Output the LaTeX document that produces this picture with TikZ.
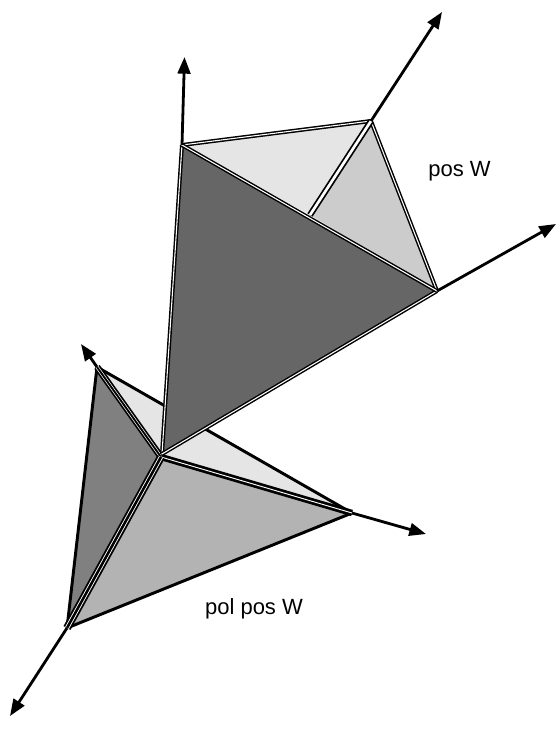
\documentclass[tikz,border=0pt]{standalone}
\usepackage{fontspec}
\setmainfont{Liberation Sans}
\usetikzlibrary{arrows.meta}
\definecolor{faceA}{HTML}{666666}
\definecolor{faceB}{HTML}{E5E5E5}
\definecolor{faceC}{HTML}{CCCCCC}
\definecolor{faceD}{HTML}{808080}
\definecolor{faceE}{HTML}{B3B3B3}
\tikzset{
  axisline/.style={line width=2.1pt,-{Triangle[length=12.5pt,width=9.5pt]}},
  edgeline/.style={line width=2.2pt,line cap=round,line join=round},
  dblthin/.style={draw=black,line width=3pt,postaction={draw=white,line width=.8pt}},
  dblmid/.style={draw=black,line width=4.8pt,postaction={draw=white,line width=.7pt}},
  triple/.style={draw=black,line width=6pt,postaction={draw=white,line width=3.2pt},postaction={draw=black,line width=1.9pt}},
  tripleb/.style={draw=black,line width=5pt,postaction={draw=white,line width=2.4pt},postaction={draw=black,line width=1.4pt}},
  wlabel/.style={font=\fontsize{16.5}{20}\selectfont,inner sep=0pt,text=black}
}
\begin{document}
\begin{tikzpicture}[x=.75pt,y=-.75pt]
\useasboundingbox (0,0) rectangle (556,729);
% upper cone
\coordinate (O) at (162,454);
\coordinate (A) at (182,145);
\coordinate (B) at (371,121);
\coordinate (C) at (437,291);
\coordinate (M) at (310,215);
\coordinate (aA) at (184.5,57);
\coordinate (aB) at (442,12);
\coordinate (aC) at (556,224);
% lower cone
\coordinate (L) at (161,457);
\coordinate (P) at (97,367);
\coordinate (Q) at (352,513);
\coordinate (R) at (67,628);
\coordinate (aP) at (81,344);
\coordinate (aQ) at (426,534);
\coordinate (aR) at (10,716);
% lower faces
\fill[faceB] (P) -- (Q) -- (L) -- cycle;
\fill[faceD] (P) -- (L) -- (R) -- cycle;
\fill[faceE] (L) -- (Q) -- (R) -- cycle;
\draw[edgeline] (P) -- (Q);
\draw[edgeline] (P) -- (R);
\draw[edgeline] (Q) -- (R);
\draw[axisline] (P) -- (aP);
\draw[axisline] (Q) -- (aQ);
\draw[axisline] (R) -- (aR);
\draw[tripleb] (L) -- (P);
\draw[dblmid] (L) -- (Q);
\draw[triple] (L) -- (R);
% upper faces
\fill[faceA] (O) -- (A) -- (C) -- cycle;
\fill[faceB] (A) -- (B) -- (M) -- cycle;
\fill[faceC] (B) -- (C) -- (M) -- cycle;
\draw[dblthin] (O) -- (A);
\draw[dblthin] (O) -- (C);
\draw[dblthin] (A) -- (B);
\draw[dblthin] (B) -- (C);
\draw[dblthin] (A) -- (C);
\draw[draw=black,line width=4.6pt] (M) -- (B);
\draw[draw=white,line width=2pt,shift={(-1.1,-.7)}] (M) -- (B);
\draw[axisline] (A) -- (aA);
\draw[axisline] (B) -- (aB);
\draw[axisline] (C) -- (aC);
\node[wlabel] (posw) at (459.5,171) {pos W};
\node[wlabel] (polposw) at (254,609) {pol pos W};
\end{tikzpicture}
\end{document}
